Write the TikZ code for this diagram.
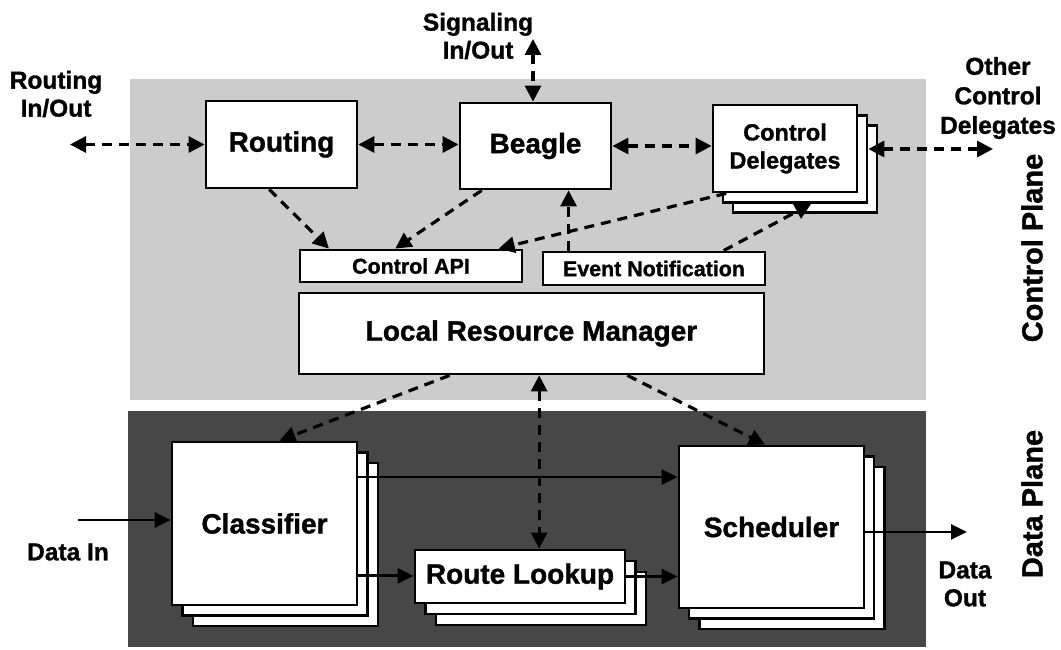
\documentclass[tikz,border=0pt]{standalone}
\usepackage{fontspec}
\setmainfont{Liberation Sans}[BoldFeatures={FakeBold=1.2}]
\usetikzlibrary{arrows.meta,calc}
\definecolor{lightplane}{gray}{0.80}
\definecolor{darkplane}{gray}{0.28}
\begin{document}
\begin{tikzpicture}[x=1pt,y=-1pt,
  box/.style={draw=black, line width=2.8pt, fill=white, inner sep=0pt, align=center,
    font=\bfseries\fontsize{28}{30}\selectfont},
  smallbox/.style={box, font=\bfseries\fontsize{21.4}{24}\selectfont},
  cdbox/.style={box, font=\bfseries\fontsize{23.5}{28}\selectfont},
  dl/.style={line width=3.2pt, dash pattern=on 10pt off 7pt, -{Triangle[length=16pt,width=16pt]}},
  dd/.style={line width=3.2pt, dash pattern=on 10pt off 7pt, {Triangle[length=16pt,width=16pt]}-{Triangle[length=16pt,width=16pt]}},
  sl/.style={line width=2.8pt, -{Triangle[length=16pt,width=15pt]}},
  lbl/.style={font=\bfseries\fontsize{24.5}{28}\selectfont, align=center, inner sep=0pt},
  planelbl/.style={font=\bfseries\fontsize{29}{32}\selectfont, rotate=90, inner sep=0pt}
]
\useasboundingbox (0,0) rectangle (1061,650);
% planes
\fill[lightplane] (130,79) rectangle (926,400);
\fill[darkplane] (128,411) rectangle (926,647);

% control plane boxes
\node[box, minimum width=151pt, minimum height=87pt] (routing) at (281.5,144.5) {Routing};
\node[box, minimum width=151pt, minimum height=86pt] (beagle) at (535.5,146) {Beagle};
\node[box, minimum width=144pt, minimum height=87pt] (cd3) at (805,169) {};
\node[box, minimum width=144pt, minimum height=87pt] (cd2) at (795,159) {};
\node[cdbox, minimum width=144pt, minimum height=87pt] (cd) at (785,148.5) {Control\\Delegates};
\node[smallbox, minimum width=222pt, minimum height=32pt] (capi) at (411,266) {Control API};
\node[smallbox, minimum width=222pt, minimum height=33pt] (en) at (654,268.5) {Event Notification};
\node[box, minimum width=465pt, minimum height=81pt] (lrm) at (531.5,333.5) {Local Resource Manager};

% data plane boxes
\node[box, minimum width=185pt, minimum height=163pt] (cl3) at (285.5,544.5) {};
\node[box, minimum width=185pt, minimum height=163pt] (cl2) at (275,534) {};
\node[box, minimum width=185pt, minimum height=163pt] (cl) at (264.5,523.5) {Classifier};
\node[box, minimum width=210pt, minimum height=53pt] (rl3) at (541,598.5) {};
\node[box, minimum width=210pt, minimum height=53pt] (rl2) at (530.5,587.5) {};
\node[box, minimum width=210pt, minimum height=53pt] (rl) at (520,576.5) {Route Lookup};
\node[box, minimum width=185pt, minimum height=162pt] (sch3) at (792,548) {};
\node[box, minimum width=185pt, minimum height=162pt] (sch2) at (781.5,537.5) {};
\node[box, minimum width=185pt, minimum height=162pt] (sch) at (771.5,527) {Scheduler};

% labels
\node[lbl] (rlab) at (56,94) {Routing\\In/Out};
\node[lbl] (slab) at (478,36) {Signaling\\In/Out};
\node[lbl, font=\bfseries\fontsize{24.5}{29.5}\selectfont] (olab) at (998,98) {Other\\Control\\Delegates};
\node[lbl] (dinlab) at (68,552) {Data In};
\node[lbl] (doutlab) at (965,584) {Data\\Out};
\node[planelbl] (cp) at (1032,248) {Control Plane};
\node[planelbl] (dp) at (1032,504) {Data Plane};

% free ends
\coordinate (rio) at (70,144.5);
\coordinate (sig) at (533,39);
\coordinate (ocd) at (993,149);
\coordinate (din) at (78,520);
\coordinate (dout) at (967,532);

% control plane connectors
\draw[dd] (rio) -- (routing.west);
\draw[dd] (routing.east) -- (beagle.west |- routing.east);
\draw[dd] (beagle.east) -- (cd.west |- beagle.east);
\draw[dd] (sig) -- (sig |- beagle.north);
\draw[dd] (ocd) -- (ocd -| cd2.east);
\draw[dl] ($(routing.south west)!0.42!(routing.south east)$) -- ($(capi.north west)!0.135!(capi.north east)$);
\draw[dl] ($(beagle.south west)!0.15!(beagle.south east)$) -- ($(capi.north west)!0.43!(capi.north east)$);
\draw[dl] ($(cd.south west)!0.1!(cd.south east)$) -- ($(capi.north west)!0.89!(capi.north east)$);
\coordinate (enb) at ($(en.north west)!0.12!(en.north east)$);
\draw[dl] (enb) -- (enb |- beagle.south);
\draw[dl] ($(en.north west)!0.81!(en.north east)$) -- ($(cd2.south west)!0.61!(cd2.south east)$);

% between planes
\draw[dl] ($(lrm.south west)!0.325!(lrm.south east)$) -- ($(cl.north west)!0.58!(cl.north east)$);
\coordinate (rlt) at ($(rl.north west)!0.59!(rl.north east)$);
\draw[dd] (rlt |- lrm.south) -- (rlt);
\draw[dl] ($(lrm.south west)!0.705!(lrm.south east)$) -- ($(sch.north west)!0.465!(sch.north east)$);

% data plane connectors
\draw[sl] (din) -- (din -| cl.west);
\coordinate (c1) at ($(cl.north east)!0.22!(cl.south east)$);
\draw[sl] (c1) -- (c1 -| sch.west);
\coordinate (c2) at ($(cl.north east)!0.816!(cl.south east)$);
\draw[sl] (c2) -- (c2 -| rl.west);
\draw[sl] (rl.east) -- (rl.east -| sch.west);
\coordinate (s1) at ($(sch.north east)!0.53!(sch.south east)$);
\draw[sl] (s1) -- (s1 -| dout);
\end{tikzpicture}
\end{document}
